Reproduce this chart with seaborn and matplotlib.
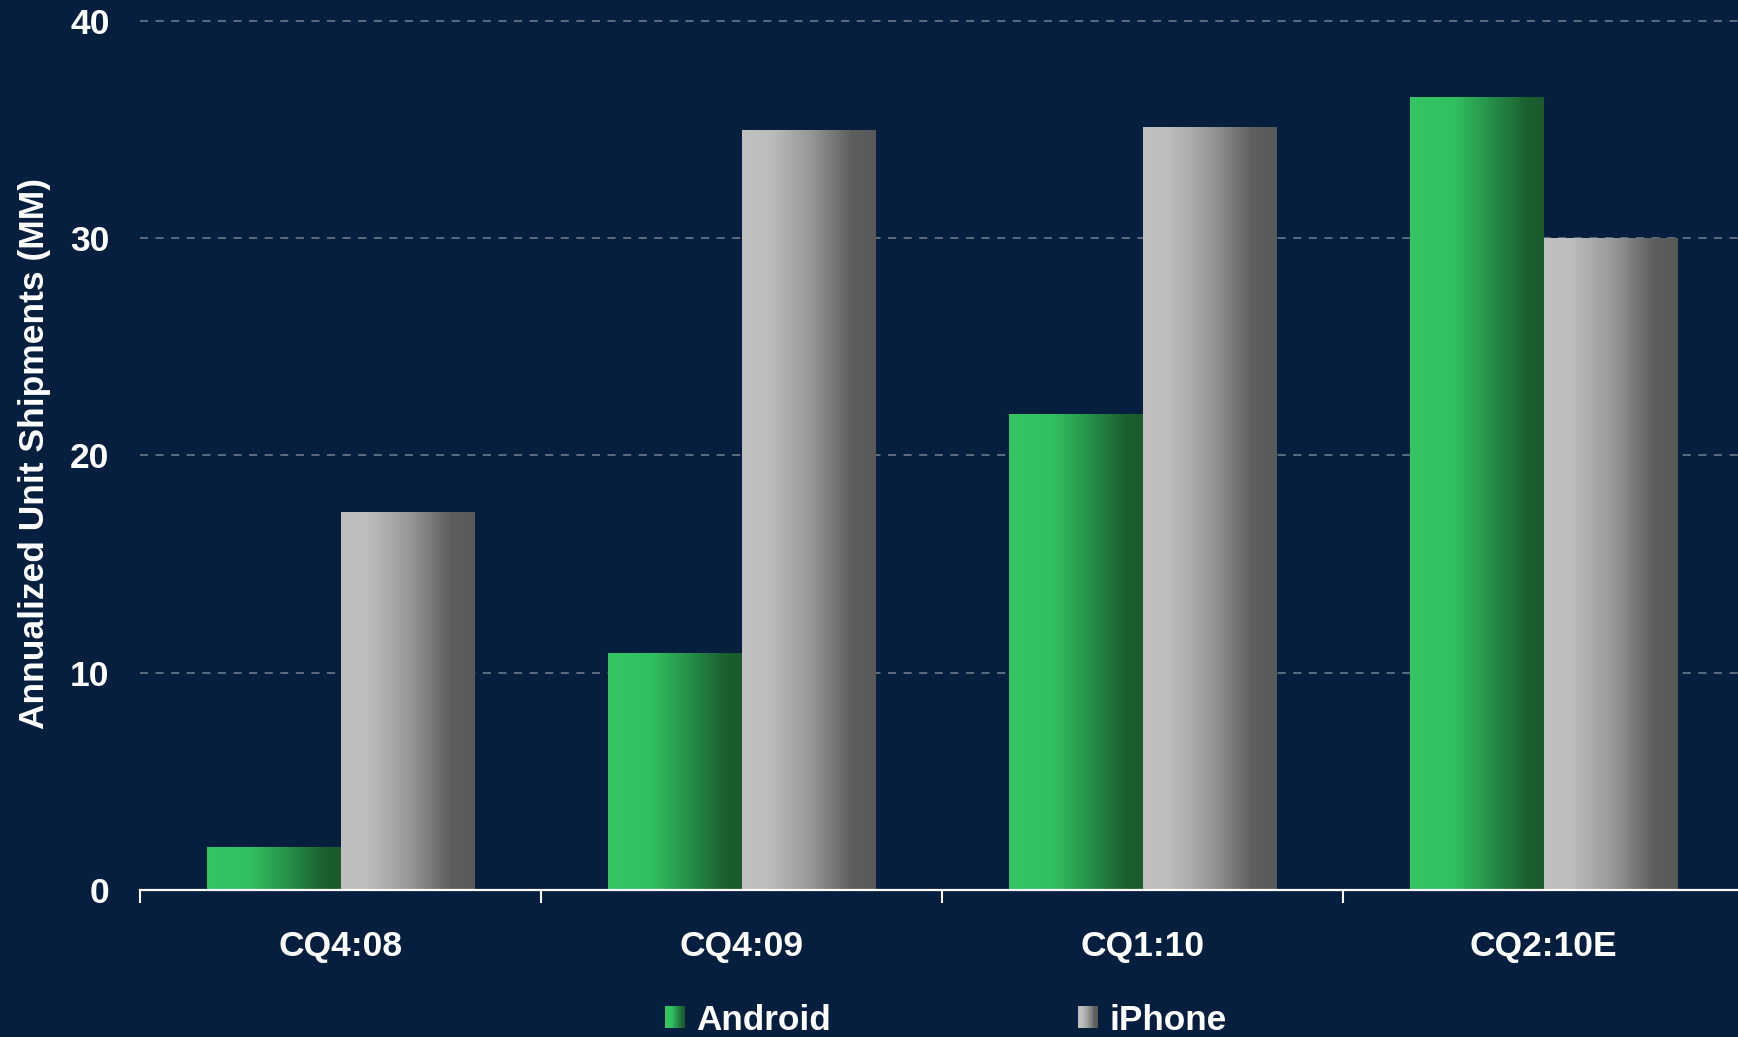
import numpy as np
import pandas as pd
import matplotlib
matplotlib.use("Agg")
import matplotlib.pyplot as plt
import seaborn as sns
from matplotlib.colors import LinearSegmentedColormap
from matplotlib.patches import Rectangle, Patch
from matplotlib.legend_handler import HandlerBase

# ---------------- data ----------------
quarters = ["CQ4:08", "CQ4:09", "CQ1:10", "CQ2:10E"]
android = [2.0, 10.9, 21.9, 36.5]
iphone = [17.4, 35.0, 35.1, 30.0]
series_names = ["Android", "iPhone"]
y_ticks = [0, 10, 20, 30, 40]
y_label = "Annualized Unit Shipments (MM)"

df = pd.DataFrame({
    "quarter": quarters * 2,
    "value": android + iphone,
    "platform": [series_names[0]] * len(quarters) + [series_names[1]] * len(quarters),
})

# ---------------- style ----------------
BG = "#061f3f"
sns.set_style("dark")
plt.rcParams["font.family"] = ["Liberation Sans", "DejaVu Sans"]
plt.rcParams["font.weight"] = "bold"

green_cmap = LinearSegmentedColormap.from_list(
    "g", [(0, "#35c563"), (0.33, "#32bf60"), (0.6, "#26914a"), (0.88, "#1b5e2f"), (1, "#1a5a2c")])
gray_cmap = LinearSegmentedColormap.from_list(
    "k", [(0, "#c0c0c0"), (0.2, "#bdbdbd"), (0.5, "#9a9a9a"), (0.82, "#5e5e5e"), (1, "#595959")])
cmaps = [green_cmap, gray_cmap]

fig = plt.figure(figsize=(17.38, 10.37), dpi=100, facecolor=BG)
ax = fig.add_axes([0.0806, 0.1418, 0.9229, 0.8421])
ax.set_facecolor(BG)

sns.barplot(data=df, x="quarter", y="value", hue="platform", order=quarters,
            hue_order=series_names, width=0.667, dodge=True, legend=False,
            saturation=1, linewidth=0, ax=ax, zorder=3)

# gradient fill for every bar
grad = np.linspace(0, 1, 256).reshape(1, -1)
for cont, cmap in zip(ax.containers, cmaps):
    for bar in cont:
        x0, y0 = bar.get_x(), bar.get_y()
        w, h = bar.get_width(), bar.get_height()
        bar.set_facecolor("none")
        im = ax.imshow(grad, cmap=cmap, aspect="auto",
                       extent=(x0, x0 + w, y0, y0 + h), zorder=3,
                       interpolation="bilinear")
        im.set_clip_path(bar)

ax.set_xlim(-0.5, len(quarters) - 0.5)
ax.set_ylim(0, 40.2)
ax.set_yticks(y_ticks)
ax.set_yticklabels([str(t) for t in y_ticks])
ax.set_xticks(range(len(quarters)))
ax.set_xticklabels(quarters)
ax.set_xticks(np.arange(-0.5, len(quarters), 1.0), minor=True)

ax.tick_params(axis="y", left=False, length=0, pad=22, labelsize=25.5, labelcolor="white")
ax.tick_params(axis="x", which="major", bottom=False, length=0, pad=29, labelsize=25.5, labelcolor="white")
ax.tick_params(axis="x", which="minor", bottom=True, length=9.5, width=1.5, color="white", direction="out")
for lab in ax.get_xticklabels() + ax.get_yticklabels():
    lab.set_fontweight("bold")

ax.set_xlabel("")
ax.set_ylabel(y_label, color="white", fontsize=25.5, fontweight="bold", labelpad=14)

ax.grid(False)
ax.yaxis.grid(True, color="#75808f", linewidth=1.1, linestyle=(0, (5.3, 4.9)), zorder=0)
ax.set_axisbelow(True)
for s in ["left", "right", "top"]:
    ax.spines[s].set_visible(False)
ax.spines["bottom"].set_color("white")
ax.spines["bottom"].set_linewidth(1.6)
ax.spines["bottom"].set_zorder(5)


class GradHandler(HandlerBase):
    def __init__(self, cmap):
        super().__init__()
        self.cmap = cmap

    def create_artists(self, legend, orig_handle, xdescent, ydescent, width, height, fontsize, trans):
        n = 24
        arts = []
        for i in range(n):
            r = Rectangle((-xdescent + i * width / n, -ydescent), width / n * 1.08, height,
                          facecolor=self.cmap((i + 0.5) / n), linewidth=0, transform=trans)
            arts.append(r)
        return arts


handles = [Patch(label=series_names[0]), Patch(label=series_names[1])]
leg = fig.legend(handles=handles, labels=series_names,
                 handler_map={handles[0]: GradHandler(green_cmap), handles[1]: GradHandler(gray_cmap)},
                 loc="center left", bbox_to_anchor=(665 / 1738, 1 - 1020 / 1037),
                 ncol=2, frameon=False, fontsize=25.3, handlelength=0.57, handleheight=0.57,
                 handletextpad=0.31, columnspacing=7.05, borderpad=0, borderaxespad=0)
for t in leg.get_texts():
    t.set_color("white")
    t.set_fontweight("bold")

fig.savefig("out.png", dpi=100, facecolor=BG)
